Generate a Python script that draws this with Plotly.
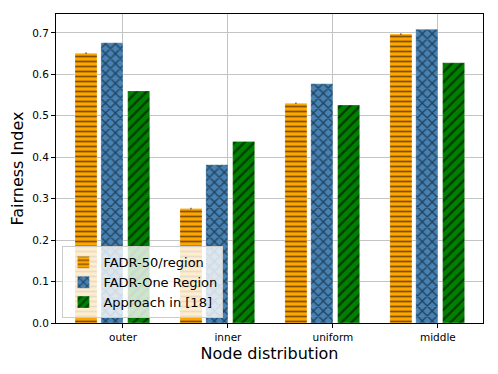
import plotly.graph_objects as go

# Data
categories = ["outer", "inner", "uniform", "middle"]
fadr_50 = [0.651, 0.276, 0.530, 0.697]
fadr_one = [0.676, 0.382, 0.577, 0.709]
approach_18 = [0.560, 0.438, 0.526, 0.628]
fadr_50_err = [0.002, 0.002, 0.002, 0.002]

positions = list(range(len(categories)))

fig = go.Figure()

bar_width = 0.21
series = [
    ("FADR-50/region", fadr_50, "#ffa500", "-", 5, -0.457, fadr_50_err),
    ("FADR-One Region", fadr_one, "#4682b4", "x", 7, -0.21, None),
    ("Approach in [18]", approach_18, "#008000", "/", 7, 0.045, None),
]

for name, vals, color, shape, size, off, err in series:
    fig.add_trace(go.Bar(
        x=positions, y=vals, name=name,
        width=bar_width, offset=off,
        marker=dict(color=color,
                    line=dict(color="rgba(255,255,255,0.5)", width=0.5),
                    pattern=dict(shape=shape, fgcolor="black", bgcolor=color,
                                 size=size, solidity=0.35)),
        error_y=dict(type="data", array=err, visible=err is not None,
                     color="#333333", thickness=1, width=0),
    ))

# page body has an 8px default margin, so the figure is a bit smaller than the window
fig.update_layout(
    width=490, height=366,
    barmode="overlay",
    plot_bgcolor="white", paper_bgcolor="white",
    margin=dict(l=48, r=15, t=6, b=51),
    font=dict(family="DejaVu Sans", size=10.5, color="black"),
    legend=dict(x=0.015, y=0.015, xanchor="left", yanchor="bottom",
                bgcolor="rgba(255,255,255,0.8)", bordercolor="#cccccc",
                borderwidth=1, font=dict(size=13), itemwidth=30,
                tracegroupgap=0),
)

fig.update_xaxes(
    range=[-0.638, 3.43], tickmode="array", tickvals=positions, ticktext=categories,
    showgrid=True, gridcolor="#c4c4c4", gridwidth=1,
    showline=True, mirror=True, linecolor="black", linewidth=1,
    ticks="outside", ticklen=4, tickcolor="black", zeroline=False,
    title=dict(text="Node distribution", font=dict(size=16), standoff=6),
)
fig.update_yaxes(
    range=[0, 0.7455], tickmode="array",
    tickvals=[0, 0.1, 0.2, 0.3, 0.4, 0.5, 0.6, 0.7], tickformat=".1f",
    showgrid=True, gridcolor="#c4c4c4", gridwidth=1,
    showline=True, mirror=True, linecolor="black", linewidth=1,
    ticks="outside", ticklen=4, tickcolor="black", zeroline=False,
    title=dict(text="Fairness Index", font=dict(size=16), standoff=6),
)

fig.write_html("out.html")
